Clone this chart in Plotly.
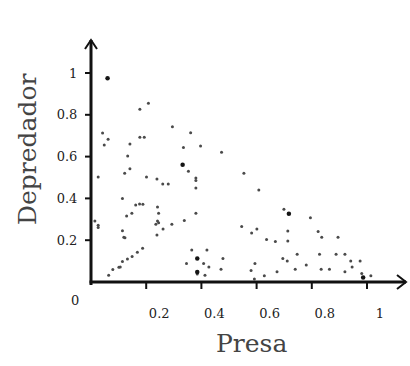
import plotly.graph_objects as go

# Prey (Presa) / Predator (Depredador) sample points
presa = [0.208, 0.177, 0.295, 0.042, 0.062, 0.177, 0.193, 0.361, 0.048, 0.141,
         0.335, 0.397, 0.473, 0.133, 0.141, 0.353, 0.122, 0.026, 0.201, 0.554,
         0.239, 0.260, 0.280, 0.380, 0.380, 0.380, 0.608, 0.114, 0.162, 0.176,
         0.188, 0.241, 0.245, 0.148, 0.129, 0.241, 0.245, 0.235, 0.338, 0.293,
         0.014, 0.026, 0.026, 0.261, 0.114, 0.119, 0.123, 0.239, 0.187, 0.168,
         0.149, 0.132, 0.114, 0.101, 0.106, 0.079, 0.064, 0.365, 0.346, 0.408,
         0.420, 0.427, 0.385, 0.413, 0.471, 0.478, 0.699, 0.795, 0.546, 0.601,
         0.582, 0.713, 0.636, 0.668, 0.713, 0.823, 0.836, 0.895, 0.594, 0.580,
         0.628, 0.592, 0.695, 0.711, 0.747, 0.674, 0.740, 0.780, 0.828, 0.834,
         0.864, 0.888, 0.920, 0.920, 0.941, 0.946, 0.975, 0.981, 1.014, 0.380]
depredador = [0.855, 0.826, 0.743, 0.713, 0.683, 0.692, 0.692, 0.714, 0.656, 0.660,
              0.644, 0.651, 0.621, 0.603, 0.542, 0.530, 0.520, 0.502, 0.502, 0.520,
              0.493, 0.469, 0.469, 0.498, 0.486, 0.450, 0.440, 0.400, 0.368, 0.373,
              0.372, 0.359, 0.329, 0.329, 0.316, 0.292, 0.284, 0.276, 0.294, 0.276,
              0.292, 0.271, 0.261, 0.254, 0.245, 0.214, 0.212, 0.225, 0.161, 0.142,
              0.122, 0.110, 0.098, 0.070, 0.072, 0.060, 0.032, 0.153, 0.089, 0.089,
              0.153, 0.072, 0.038, 0.032, 0.061, 0.113, 0.348, 0.308, 0.265, 0.253,
              0.234, 0.244, 0.203, 0.194, 0.196, 0.242, 0.214, 0.214, 0.089, 0.055,
              0.030, 0.014, 0.113, 0.100, 0.133, 0.049, 0.061, 0.081, 0.133, 0.061,
              0.061, 0.133, 0.133, 0.049, 0.100, 0.072, 0.100, 0.041, 0.030, 0.329]

# Heavier (darker, larger) dots
presa_big = [0.060, 0.332, 0.385, 0.385, 0.717, 0.986]
depredador_big = [0.975, 0.561, 0.112, 0.048, 0.326, 0.021]

x_ticks = [0.2, 0.4, 0.6, 0.8, 1.0]
x_ticklabels = ["0.2", "0.4", "0.6", "0.8", "1"]
y_ticks = [0.2, 0.4, 0.6, 0.8, 1.0]
y_ticklabels = ["0.2", "0.4", "0.6", "0.8", "1"]
origin_label = "0"
x_title = "Presa"
y_title = "Depredador"

W, H = 410, 366
L, R, T, B = 91, 4, 40, 84
PX_X, PX_Y = 276.0, 209.0          # pixels per data unit
XMAX = (W - L - R) / PX_X
YMAX = (H - T - B) / PX_Y

serif = "DejaVu Serif"
INK = "#111"
CLEAR = "rgba(0,0,0,0)"

fig = go.Figure()
fig.add_trace(go.Scatter(
    x=presa, y=depredador, mode="markers", cliponaxis=False,
    marker=dict(size=3, color="#4a4a4a", line=dict(width=0)),
    showlegend=False, hoverinfo="skip"))
fig.add_trace(go.Scatter(
    x=presa_big, y=depredador_big, mode="markers", cliponaxis=False,
    marker=dict(size=4.5, color="#151515", line=dict(width=0)),
    showlegend=False, hoverinfo="skip"))

axis_common = dict(showgrid=False, zeroline=False, showline=False,
                   ticks="outside", tickcolor=CLEAR, tickwidth=2,
                   tickfont=dict(family=serif, size=13, color="#222"))

fig.update_xaxes(range=[0, XMAX], tickvals=x_ticks, ticktext=x_ticklabels,
                 ticklen=6, ticklabelstandoff=13, ticklabelshift=13,
                 **axis_common)
fig.update_yaxes(range=[0, YMAX], tickvals=y_ticks, ticktext=y_ticklabels,
                 ticklen=4, ticklabelstandoff=6, **axis_common)

def px_rect(xanchor, yanchor, x0, x1, y0, y1):
    """filled rectangle, pixel-sized, anchored at a paper position"""
    fig.add_shape(type="rect", xref="paper", yref="paper",
                  xsizemode="pixel", ysizemode="pixel",
                  xanchor=xanchor, yanchor=yanchor,
                  x0=x0, x1=x1, y0=y0, y1=y1,
                  fillcolor=INK, line=dict(width=0), layer="above")

plot_w, plot_h = W - L - R, H - T - B
# y axis: from 3px below the origin up to the top of the plot area
px_rect(0, 0, -1.5, 1.5, -3, plot_h)
# x axis: from the origin to the right end of the plot area
px_rect(0, 0, -1.5, plot_w, -1.5, 1.5)

# tick marks at the tick positions (converted to paper fractions)
for t in x_ticks:
    px_rect(t / XMAX, 0, -1, 1, -7, 0)
for t in y_ticks:
    px_rect(0, t / YMAX, -6, 0, -1, 1)

# arrowheads at axis ends (open chevrons)
fig.add_shape(type="path", xref="paper", yref="paper", xsizemode="pixel", ysizemode="pixel",
              xanchor=0, yanchor=1, path="M -6,-9 L 0,0 L 6,-9",
              line=dict(color=INK, width=2), layer="above")
fig.add_shape(type="path", xref="paper", yref="paper", xsizemode="pixel", ysizemode="pixel",
              xanchor=1, yanchor=0, path="M -9,7 L 0,0 L -9,-7",
              line=dict(color=INK, width=2), layer="above")

fig.add_annotation(x=0, y=0, xref="x", yref="y", text=origin_label, showarrow=False,
                   xshift=-16, yshift=-18, font=dict(family=serif, size=13, color="#222"))
fig.add_annotation(x=(251 - L) / plot_w, y=(H - B - 343) / plot_h,
                   xref="paper", yref="paper", text=x_title, showarrow=False,
                   xanchor="center", yanchor="middle",
                   font=dict(family=serif, size=25, color="#444"))
fig.add_annotation(x=(27 - L) / plot_w, y=(H - B - 149) / plot_h,
                   xref="paper", yref="paper", text=y_title, showarrow=False,
                   textangle=-90, xanchor="center", yanchor="middle",
                   font=dict(family=serif, size=25, color="#444"))

fig.update_layout(width=W, height=H, margin=dict(l=L, r=R, t=T, b=B),
                  paper_bgcolor="white", plot_bgcolor="white")

fig.write_html("out.html")
